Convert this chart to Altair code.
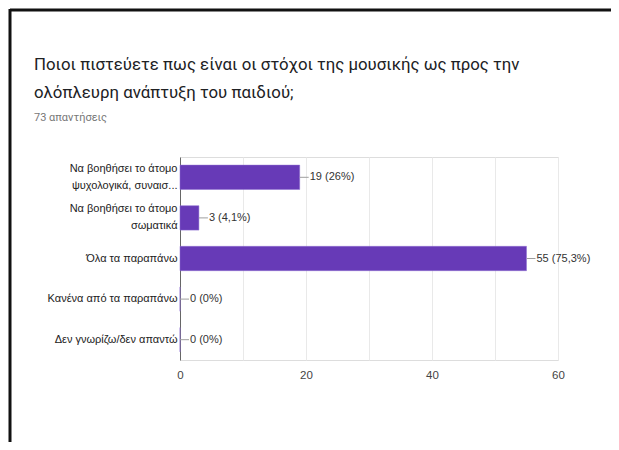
import altair as alt
import pandas as pd

# ---- data ----
categories = [
    "Να βοηθήσει το άτομο\nψυχολογικά, συναισ...",
    "Να βοηθήσει το άτομο\nσωματικά",
    "Όλα τα παραπάνω",
    "Κανένα από τα παραπάνω",
    "Δεν γνωρίζω/δεν απαντώ",
]
counts = [19, 3, 55, 0, 0]
value_labels = ["19 (26%)", "3 (4,1%)", "55 (75,3%)", "0 (0%)", "0 (0%)"]
x_ticks = [0, 10, 20, 30, 40, 50, 60]

title_lines = [
    "Ποιοι πιστεύετε πως είναι οι στόχοι της μουσικής ως προς την",
    "ολόπλευρη ανάπτυξη του παιδιού;",
]
subtitle = "73 απαντήσεις"

df = pd.DataFrame({"cat": categories, "n": counts, "lab": value_labels})

PURPLE = "#673ab7"
LABEL_FONT = "Liberation Sans"

y_enc = alt.Y(
    "cat:N",
    sort=categories,
    title=None,
    scale=alt.Scale(paddingInner=0.4, paddingOuter=0.2),
    axis=alt.Axis(
        labelExpr="split(datum.label, '\\n')",
        labelOffset={
            "condition": {"test": "indexof(datum.value, '\\n') >= 0", "value": -8.5},
            "value": 0,
        },
        labelFont=LABEL_FONT,
        labelFontSize=11,
        labelColor="#222222",
        labelLineHeight=17,
        labelPadding=3,
        labelLimit=200,
        ticks=False,
        domain=True,
        domainColor="#666666",
        grid=False,
    ),
)
x_enc = alt.X(
    "n:Q",
    title=None,
    scale=alt.Scale(domain=[0, 60], nice=False),
    axis=alt.Axis(
        values=x_ticks,
        labelExpr="datum.value % 20 == 0 ? datum.label : ''",
        labelFont=LABEL_FONT,
        labelFontSize=11.5,
        labelColor="#444444",
        labelPadding=9,
        labelFlush=False,
        ticks=False,
        domain=False,
        grid=True,
        gridColor="#e9e9e9",
    ),
)

base = alt.Chart(df)

bars = base.mark_bar(color=PURPLE, stroke="#8c6fd0", strokeWidth=0.5).encode(x=x_enc, y=y_enc)

connectors = base.mark_rule(color="#9e9e9e", strokeWidth=1, x2Offset=9).encode(
    x="n:Q", x2="n:Q", y=alt.Y("cat:N", sort=categories, bandPosition=0.5)
)

texts = base.mark_text(
    align="left", baseline="middle", dx=10, font=LABEL_FONT, fontSize=11, color="#333333"
).encode(x="n:Q", y=alt.Y("cat:N", sort=categories), text="lab:N")

# page frame (decoration around the card)
frame_df = pd.DataFrame({"k": [0]})
top_line = alt.Chart(frame_df).mark_rule(color="#111111", strokeWidth=3).encode(
    x=alt.value(-170), x2=alt.value(445), y=alt.value(-147)
)
left_line = alt.Chart(frame_df).mark_rule(color="#111111", strokeWidth=3).encode(
    x=alt.value(-170), y=alt.value(-148), y2=alt.value(300)
)

chart = (
    alt.layer(top_line, left_line, bars, connectors, texts)
    .properties(
        width=378,
        height=203,
        autosize=alt.AutoSizeParams(type="none"),
        padding={"left": 172, "top": 149, "right": 53, "bottom": 82},
        title=alt.TitleParams(
            text=title_lines,
            subtitle=subtitle,
            anchor="start",
            frame="group",
            dx=-146,
            dy=119,
            font="Roboto",
            fontSize=16.8,
            fontWeight="normal",
            color="#202124",
            lineHeight=28,
            subtitleFont="Roboto",
            subtitleFontSize=11,
            subtitleColor="#777777",
            subtitlePadding=10,
        ),
    )
    .configure_view(stroke="#e9e9e9")
    .configure(background="white")
)

chart.save("out.html", embed_options={"renderer": "svg", "actions": False})
